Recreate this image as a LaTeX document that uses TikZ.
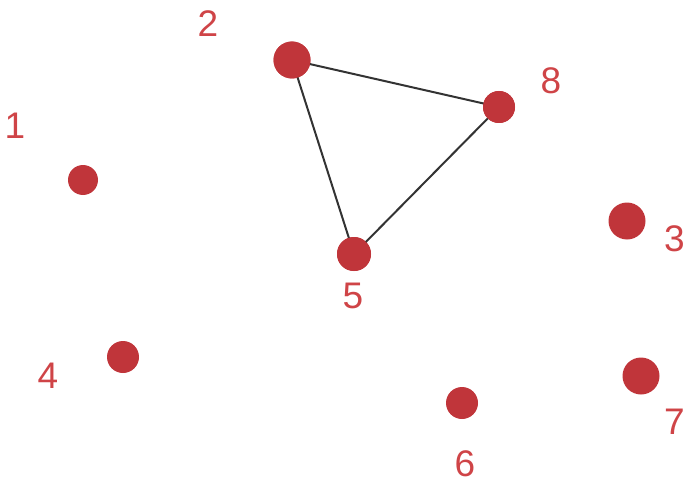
\documentclass[tikz,border=0pt]{standalone}
\usepackage{fontspec}
\setmainfont{Liberation Sans}
\definecolor{dotred}{HTML}{C0353A}
\definecolor{labred}{HTML}{CF4447}
\definecolor{edgegray}{HTML}{333333}
\begin{document}
\begin{tikzpicture}[x=1pt,y=-1pt,
  vdot/.style={circle,fill=dotred,draw=none,minimum size=#1,inner sep=0pt},
  vdot/.default=32pt,
  vlab/.style={text=labred,font=\fontsize{37}{37}\selectfont,inner sep=0pt},
  edge/.style={draw=edgegray,line width=2pt}]
\useasboundingbox (0,0) rectangle (685,492);
\node[vdot=30pt] (n1) at (83,180) {};
\node[vdot=37pt] (n2) at (292,60) {};
\node[vdot=32pt] (n8) at (499,107) {};
\node[vdot=34pt] (n5) at (354,254) {};
\node[vdot=37pt] (n3) at (627,221) {};
\node[vdot=32pt] (n4) at (123,357) {};
\node[vdot=32pt] (n6) at (462,403) {};
\node[vdot=37pt] (n7) at (641,376) {};
\draw[edge] (n2.center) -- (n8.center) -- (n5.center) -- (n2.center);
\node[vdot=37pt] at (n2) {};
\node[vdot=32pt] at (n8) {};
\node[vdot=34pt] at (n5) {};
\node[vlab] (l1) at (15,126) {1};
\node[vlab] (l2) at (208,24) {2};
\node[vlab] (l8) at (551,81) {8};
\node[vlab] (l5) at (353,296) {5};
\node[vlab,anchor=east] (l3) at (685,239) {3};
\node[vlab] (l4) at (48,376) {4};
\node[vlab] (l6) at (465,464) {6};
\node[vlab,anchor=east] (l7) at (685,422) {7};
\end{tikzpicture}
\end{document}
